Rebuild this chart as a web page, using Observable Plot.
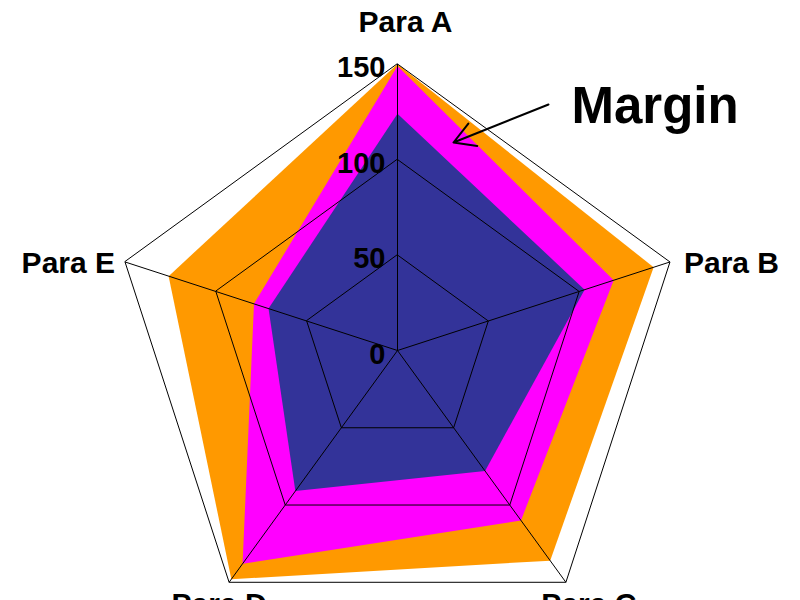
<!DOCTYPE html>
<html>
<head>
<meta charset="utf-8">
<script src="https://cdn.jsdelivr.net/npm/d3@7"></script>
<script src="https://cdn.jsdelivr.net/npm/@observablehq/plot@0.6"></script>
<style>
  html, body { margin: 0; padding: 0; background: #fff; overflow: hidden; }
  #chart svg { display: block; font-family: "Liberation Sans", Arial, sans-serif; }
</style>
</head>
<body>
<div id="chart"></div>
<script>
// ---- data ----
const categories = ["Para A", "Para B", "Para C", "Para D", "Para E"];
const seriesNames = ["Series 1", "Series 2", "Series 3"];
const series1 = [150, 141, 136, 148, 126];   // orange (outer)
const series2 = [149, 119, 110, 138, 79];    // magenta
const series3 = [124, 103, 78, 91, 71];      // dark blue
const gridTicks = [0, 50, 100, 150];
const tickLabels = ["0", "50", "100", "150"];
const annotationText = "Margin";

// ---- helpers ----
const colors = ["#FF9900", "#FF00FF", "#333399"];
const n = categories.length;
const angle = i => (i * 2 * Math.PI) / n;
const px = (r, i) => r * Math.sin(angle(i));
const py = (r, i) => r * Math.cos(angle(i));
const maxV = 150;

// pixel geometry -> data domain (center at 397,350; 1.91 px per unit)
const k = 1.91, cx = 397, cy = 350, W = 800, H = 600;

const allSeries = [series1, series2, series3];
const polys = allSeries.flatMap((vals, s) =>
  vals.map((v, i) => ({ s: seriesNames[s], x: px(v, i), y: py(v, i) }))
);
const grid = gridTicks.filter(t => t > 0).flatMap(t =>
  categories.map((c, i) => ({ t, x: px(t, i), y: py(t, i) }))
);
const spokes = categories.map((c, i) => ({ x: px(maxV, i), y: py(maxV, i) }));
const ticks = gridTicks.map((t, j) => ({ t, label: tickLabels[j] }));

// label placement (pixel offsets from the outer vertex)
const labelStyle = [
  { dx: 8, dy: -32, anchor: "middle" },
  { dx: 14, dy: 11, anchor: "start" },
  { dx: 23, dy: 32, anchor: "middle" },
  { dx: -10, dy: 32, anchor: "middle" },
  { dx: -10, dy: 11, anchor: "end" }
];

// annotation anchor points (data units)
const toX = p => (p - cx) / k, toY = p => (cy - p) / k;
const arrow = [{ x1: toX(548), y1: toY(104), x2: toX(453), y2: toY(142) }];
const annot = [{ x: toX(571), y: toY(122), text: annotationText }];

const plot = Plot.plot({
  width: W,
  height: H,
  margin: 0,
  x: { type: "linear", domain: [-cx / k, (W - cx) / k], range: [0, W], axis: null },
  y: { type: "linear", domain: [-(H - cy) / k, cy / k], range: [H, 0], axis: null },
  color: { domain: seriesNames, range: colors },
  style: { fontFamily: "Liberation Sans, Arial, sans-serif", background: "white" },
  marks: [
    Plot.line(polys, { x: "x", y: "y", z: "s", fill: "s", stroke: "none", curve: "linear-closed" }),
    Plot.line(grid, { x: "x", y: "y", z: "t", stroke: "#000", strokeWidth: 1, curve: "linear-closed" }),
    Plot.link(spokes, { x1: 0, y1: 0, x2: "x", y2: "y", stroke: "#000", strokeWidth: 1 }),
    Plot.text(ticks, {
      x: 0, y: "t", text: "label", textAnchor: "end", lineAnchor: "bottom",
      dx: -12, dy: 13, fontSize: 29, fontWeight: "bold", fill: "#000"
    }),
    ...categories.map((c, i) =>
      Plot.text([c], {
        x: () => px(maxV, i), y: () => py(maxV, i), text: d => d,
        textAnchor: labelStyle[i].anchor, lineAnchor: "bottom",
        dx: labelStyle[i].dx, dy: labelStyle[i].dy,
        fontSize: 30, fontWeight: "bold", fill: "#000"
      })
    ),
    Plot.arrow(arrow, { x1: "x1", y1: "y1", x2: "x2", y2: "y2", stroke: "#000", strokeWidth: 2, headLength: 18, headAngle: 60 }),
    Plot.text(annot, {
      x: "x", y: "y", text: "text", textAnchor: "start", lineAnchor: "bottom",
      fontSize: 51, fontWeight: "bold", fill: "#000"
    })
  ]
});
document.getElementById("chart").appendChild(plot);
</script>
</body>
</html>
